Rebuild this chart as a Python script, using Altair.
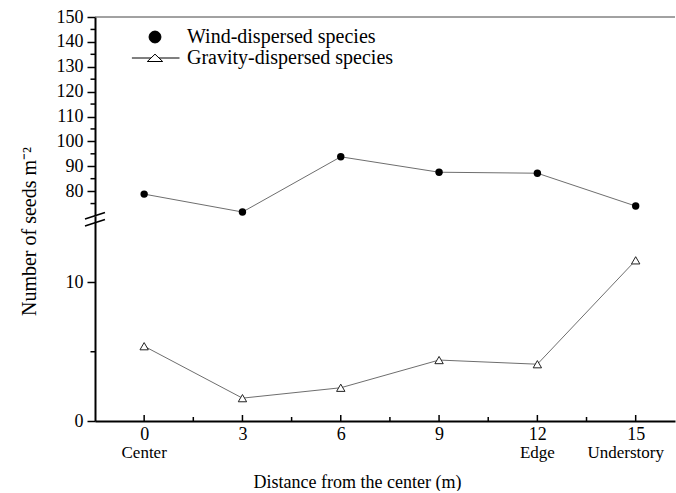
import altair as alt
import pandas as pd

# ---------------- data ----------------
distance = [0, 3, 6, 9, 12, 15]
wind = [78.8, 71.6, 93.8, 87.6, 87.2, 74.0]
gravity = [5.4, 1.65, 2.4, 4.4, 4.1, 11.6]
series_names = ["Wind-dispersed species", "Gravity-dispersed species"]

x_major = [0, 3, 6, 9, 12, 15]
x_minor = [1.5, 4.5, 7.5, 10.5, 13.5]
site_at = [0, 12]
site_names = ["Center", "Edge"]
site_last_at = [15]
site_last_name = ["Understory"]

top_major = [80, 90, 100, 110, 120, 130, 140, 150]
top_minor = [75, 85, 95, 105, 115, 125, 135, 145]
bot_major = [0, 10]
bot_minor = [5]

# ---------------- layout / style ----------------
FONT = "Liberation Serif"
W = 580
H_TOP = 199
H_BOT = 205
X_DOMAIN = [-1.5, 16.2]
TOP_DOMAIN = [70, 150]
BOT_DOMAIN = [0, 14.8]

wind_df = pd.DataFrame({"distance": distance, "value": wind})
grav_df = pd.DataFrame({"distance": distance, "value": gravity})
legend_df = pd.DataFrame({"series": series_names})
one = pd.DataFrame({"k": [0]})

xs = alt.Scale(domain=X_DOMAIN, nice=False, zero=False)
ys_top = alt.Scale(domain=TOP_DOMAIN, nice=False, zero=False)
ys_bot = alt.Scale(domain=BOT_DOMAIN, nice=False, zero=False)

circle_path = "M0.85,0A0.85,0.85,0,1,1,-0.85,0A0.85,0.85,0,1,1,0.85,0Z"
tri_path = "M-3.3,0L-0.58,0M0.58,0L3.5,0M-1.1,0.5L0,-0.55L1.1,0.5Z"

# ---------------- top panel ----------------
top_x = alt.X("distance:Q", scale=xs, axis=None)
top_y_axis = alt.Axis(values=top_major, title=None, tickSize=8, tickWidth=1.5,
                      tickColor="black", labelFontSize=18, labelPadding=4,
                      labelOverlap=False, domainWidth=2, domainColor="black", grid=False)
top_y = alt.Y("value:Q", scale=ys_top, axis=top_y_axis)

wind_line = alt.Chart(wind_df).mark_line(color="#6e6e6e", strokeWidth=1).encode(x=top_x, y=top_y)
wind_pts = alt.Chart(wind_df).mark_point(
    shape="circle", filled=True, size=55, color="black", opacity=1
).encode(x=top_x, y=top_y)

top_minor_ticks = alt.Chart(pd.DataFrame({"value": top_minor})).mark_rule(
    color="black", strokeWidth=1.5
).encode(y=top_y, x=alt.value(-4.5), x2=alt.value(0))

top_border = alt.Chart(one).mark_rule(color="#444444", strokeWidth=1).encode(
    x=alt.value(0), x2=alt.value(W), y=alt.value(0)
)

leg = alt.Legend(
    orient="none", legendX=50, legendY=10, title=None, labelFont=FONT,
    labelFontSize=20, labelColor="black", labelOffset=22, labelLimit=0,
    rowPadding=1, padding=0, symbolSize=196, symbolStrokeWidth=1,
)
legend_layer = alt.Chart(legend_df).mark_point(stroke="black", strokeWidth=1, opacity=1).encode(
    shape=alt.Shape("series:N", scale=alt.Scale(domain=series_names, range=[circle_path, tri_path]), legend=leg),
    fill=alt.Fill("series:N", scale=alt.Scale(domain=series_names, range=["black", "white"]), legend=leg),
).transform_filter("false")

top = alt.layer(wind_line, wind_pts, top_minor_ticks, top_border, legend_layer).properties(
    width=W, height=H_TOP
)

# ---------------- bottom panel ----------------
bot_x_axis = alt.Axis(values=x_major, ticks=False, labelFontSize=18, labelPadding=4,
                      domainWidth=2, domainColor="black", grid=False,
                      title="Distance from the center (m)", titleFontSize=18,
                      titleFontWeight="normal", titleBaseline="alphabetic",
                      titleAlign="center", titleX=262, titleY=66)
bot_y_axis = alt.Axis(values=bot_major, tickSize=8, tickWidth=1.5, tickColor="black",
                      labelFontSize=18, labelPadding=4, labelOverlap=False,
                      domainWidth=2, domainColor="black",
                      grid=False, title="Number of seeds m\u207b\u00b2", titleFontSize=20,
                      titleFontWeight="normal", titleAngle=270, titleAlign="center",
                      titleBaseline="middle", titleX=-66, titleY=15)
bot_x = alt.X("distance:Q", scale=xs, axis=bot_x_axis)
bot_y = alt.Y("value:Q", scale=ys_bot, axis=bot_y_axis)

grav_line = alt.Chart(grav_df).mark_line(color="#6e6e6e", strokeWidth=1).encode(x=bot_x, y=bot_y)
grav_pts = alt.Chart(grav_df).mark_point(
    shape="triangle-up", size=70, fill="white", stroke="#222222", strokeWidth=1,
    opacity=1, fillOpacity=1
).encode(x=bot_x, y=bot_y)

bot_minor_ticks = alt.Chart(pd.DataFrame({"value": bot_minor})).mark_rule(
    color="black", strokeWidth=1.5
).encode(y=bot_y, x=alt.value(-4.5), x2=alt.value(0))

x_major_ticks = alt.Chart(pd.DataFrame({"distance": x_major})).mark_rule(
    color="black", strokeWidth=1.5
).encode(x=bot_x, y=alt.value(H_BOT - 6), y2=alt.value(H_BOT))
x_minor_ticks = alt.Chart(pd.DataFrame({"distance": x_minor})).mark_rule(
    color="black", strokeWidth=1.5
).encode(x=bot_x, y=alt.value(H_BOT - 4), y2=alt.value(H_BOT))

site_text = alt.Chart(pd.DataFrame({"distance": site_at, "name": site_names})).mark_text(
    font=FONT, fontSize=17, color="black", baseline="alphabetic", align="center"
).encode(x=bot_x, y=alt.value(H_BOT + 37), text="name:N")
site_last = alt.Chart(pd.DataFrame({"distance": site_last_at, "name": site_last_name})).mark_text(
    font=FONT, fontSize=17, color="black", baseline="alphabetic", align="center", dx=-10
).encode(x=bot_x, y=alt.value(H_BOT + 37), text="name:N")

break1 = alt.Chart(one).mark_rule(color="black", strokeWidth=1.5).encode(
    x=alt.value(-10), x2=alt.value(10), y=alt.value(3.0), y2=alt.value(-3.5)
)
break2 = alt.Chart(one).mark_rule(color="black", strokeWidth=1.5).encode(
    x=alt.value(-10), x2=alt.value(10), y=alt.value(10.0), y2=alt.value(3.5)
)

bottom = alt.layer(
    grav_line, grav_pts, bot_minor_ticks, x_major_ticks, x_minor_ticks,
    site_text, site_last, break1, break2
).properties(width=W, height=H_BOT)

chart = alt.vconcat(top, bottom, spacing=0, bounds="flush").resolve_legend(
    shape="independent", fill="independent"
).resolve_scale(shape="independent", fill="independent").properties(
    padding={"left": 18, "top": 8, "right": 0, "bottom": 0}
).configure(
    font=FONT, view=alt.ViewConfig(stroke="transparent", strokeWidth=0)
).configure_axis(
    labelFont=FONT, titleFont=FONT, labelColor="black", titleColor="black", grid=False
)

chart.save("out.html", embed_options={"renderer": "svg", "actions": False})
